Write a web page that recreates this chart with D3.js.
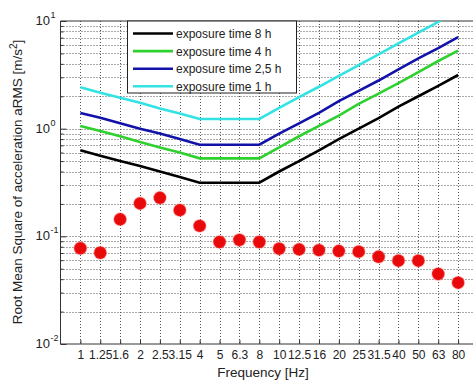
<!DOCTYPE html>
<html><head><meta charset="utf-8">
<script src="https://cdn.jsdelivr.net/npm/d3@7"></script>
<style>body{margin:0;background:#fff}svg{display:block}text{font-family:"Liberation Sans",Arial,sans-serif;fill:#222}</style>
</head><body><svg id="c" width="473" height="381"></svg>
<script>
const freqs = ["1","1.25","1.6","2","2.5","3.15","4","5","6.3","8","10","12.5","16","20","25","31.5","40","50","63","80"];
const limit8h  = [0.63,0.56,0.50,0.45,0.40,0.355,0.315,0.315,0.315,0.315,0.40,0.50,0.63,0.80,1.0,1.25,1.6,2.0,2.5,3.15];
const limit4h  = [1.06,0.95,0.85,0.75,0.67,0.60,0.53,0.53,0.53,0.53,0.67,0.85,1.06,1.32,1.70,2.12,2.65,3.35,4.25,5.30];
const limit25h = [1.40,1.26,1.12,1.00,0.90,0.80,0.71,0.71,0.71,0.71,0.90,1.12,1.40,1.80,2.24,2.80,3.55,4.50,5.60,7.10];
const limit1h  = [2.42,2.16,1.94,1.74,1.54,1.38,1.23,1.23,1.23,1.23,1.56,1.96,2.45,3.10,3.90,4.90,6.20,7.80,9.80,12.3];
const measured = [0.0775,0.0704,0.144,0.202,0.228,0.175,0.125,0.0886,0.0925,0.0886,0.0767,0.0757,0.0745,0.0730,0.0721,0.0646,0.0594,0.0594,0.0447,0.0371];
const seriesNames = ["exposure time 8 h","exposure time 4 h","exposure time 2,5 h","exposure time 1 h"];
const seriesColors = ["#000000","#2ed12e","#1212a8","#33e3e3"];
const yTicks = [0.01,0.1,1,10];
const yTickExp = ["-2","-1","0","1"];

const L=60.5, R=478, T=21, B=344;
const svg = d3.select("#c");
const x = d3.scaleLinear().domain([0,21]).range([L,R]);
const y = d3.scaleLog().domain([0.01,10]).range([B,T]);

svg.append("defs").append("clipPath").attr("id","pc").append("rect")
  .attr("x",L).attr("y",T).attr("width",R-L).attr("height",B-T);

// grid
const g = svg.append("g");
const minor = [];
for (let e=-2;e<1;e++) for (let m=1;m<10;m++) minor.push(m*Math.pow(10,e));
minor.push(10);
g.selectAll(".hg").data(minor.filter(v=>v>0.01&&v<10)).enter().append("line")
  .attr("x1",L).attr("x2",R).attr("y1",d=>Math.round(y(d))+0.5).attr("y2",d=>Math.round(y(d))+0.5)
  .attr("stroke","#555").attr("stroke-width",1).attr("stroke-dasharray","1,2");
g.selectAll(".vg").data(freqs).enter().append("line")
  .attr("x1",(d,i)=>Math.round(x(i+1))+0.5).attr("x2",(d,i)=>Math.round(x(i+1))+0.5)
  .attr("y1",T).attr("y2",B).attr("stroke","#555").attr("stroke-width",1).attr("stroke-dasharray","1,2");

// axes with ticks
const xAxis = d3.axisBottom(x).tickValues(d3.range(1,21)).tickFormat(i=>freqs[i-1]).tickSizeInner(-4).tickSizeOuter(0);
const ax = svg.append("g").attr("transform",`translate(0,${B})`).call(xAxis);
ax.select(".domain").remove();
ax.selectAll("line").attr("stroke","#333");
ax.selectAll("text").attr("dy","0.71em").attr("y",6).style("font-size","12px").attr("fill","#222")
  .style("font-family","'Liberation Sans',Arial,sans-serif");

const yAxis = d3.axisLeft(y).tickValues(minor).tickFormat("").tickSizeInner(-3).tickSizeOuter(0);
const ay = svg.append("g").attr("transform",`translate(${L},0)`).call(yAxis);
ay.select(".domain").remove();
ay.selectAll("line").attr("stroke","#333");
ay.selectAll(".tick").filter(d=>yTicks.some(v=>Math.abs(v-d)<1e-9)).select("line").attr("x2",6);

// y labels
const yl = svg.append("g");
yTicks.forEach((v,i)=>{
  yl.append("text").attr("x",50).attr("y",y(v)+4).attr("text-anchor","end").style("font-size","13px").text("10");
  yl.append("text").attr("x",50.5).attr("y",y(v)-3).style("font-size","9px").text(yTickExp[i]);
});

// frame
svg.append("path").attr("d",`M${L},${T}H${R}M${L},${T}V${B}H${R}`).attr("fill","none").attr("stroke","#333").attr("stroke-width",1);

// lines
const line = d3.line().x((d,i)=>x(i+1)).y(d=>y(d));
const pl = svg.append("g").attr("clip-path","url(#pc)");
[limit8h,limit4h,limit25h,limit1h].forEach((s,k)=>{
  pl.append("path").datum(s).attr("d",line).attr("fill","none").attr("stroke",seriesColors[k]).attr("stroke-width",2.6);
});

// points
pl.selectAll(".pt").data(measured).enter().append("circle")
  .attr("cx",(d,i)=>x(i+1)).attr("cy",d=>y(d)).attr("r",6.2).attr("fill","#e80a0a")
  .attr("stroke","#ff4040").attr("stroke-opacity",0.35).attr("stroke-width",1.5);

// legend
const lg = svg.append("g");
lg.append("rect").attr("x",127.5).attr("y",T).attr("width",169).attr("height",72).attr("fill","#fff").attr("stroke","#222").attr("stroke-width",1);
seriesNames.forEach((n,k)=>{
  const yy = 33.5 + k*17.6;
  lg.append("line").attr("x1",133).attr("x2",173).attr("y1",yy).attr("y2",yy).attr("stroke",seriesColors[k]).attr("stroke-width",2.6);
  lg.append("text").attr("x",176).attr("y",yy+4.5).style("font-size","12px").text(n);
});

// axis titles
svg.append("text").attr("x",263).attr("y",377).attr("text-anchor","middle").style("font-size","13.5px").text("Frequency [Hz]");
const yt = svg.append("text").attr("transform","translate(22,182) rotate(-90)").attr("text-anchor","middle").style("font-size","13.5px");
yt.append("tspan").text("Root Mean Square of acceleration aRMS [m/s");
yt.append("tspan").attr("dy","-5").style("font-size","10px").text("2");
yt.append("tspan").attr("dy","5").text("]");
</script></body></html>
